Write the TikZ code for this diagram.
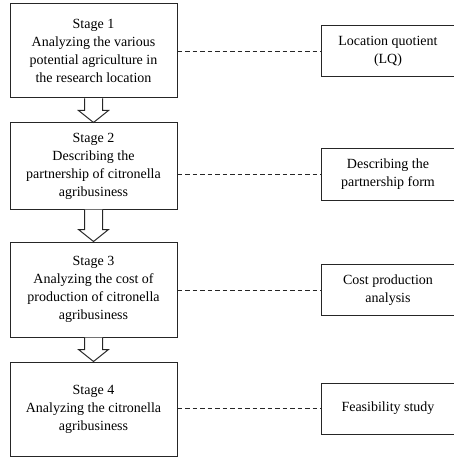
\documentclass[tikz,border=0pt]{standalone}
\usepackage{fontspec}
\setmainfont{Liberation Serif}
\usetikzlibrary{calc}

\tikzset{
    stagebox/.style={draw=black!85, line width=1pt, align=center,
        minimum width=167pt, font=\fontsize{14}{18}\selectfont},
    methodbox/.style={draw=black!85, line width=1pt, align=center,
        minimum width=134pt, minimum height=51pt, font=\fontsize{14}{18}\selectfont},
    link/.style={dashed, dash pattern=on 4.5pt off 3pt, line width=1pt, black!85},
    blockarrow/.style={draw=black!85, line width=1pt, fill=white}
}

\begin{document}
\begin{tikzpicture}[x=1pt, y=-1pt]
    \useasboundingbox (0,0) rectangle (454,457);
    % stages
    \node[stagebox, minimum height=94pt] (s1) at (93.5,51) {Stage 1\\Analyzing the various\\potential agriculture in\\the research location};
    \node[stagebox, minimum height=86pt] (s2) at (93.5,166) {Stage 2\\Describing the\\partnership of citronella\\agribusiness};
    \node[stagebox, minimum height=95pt] (s3) at (93.5,289.5) {Stage 3\\Analyzing the cost of\\production of citronella\\agribusiness};
    \node[stagebox, minimum height=94pt] (s4) at (93.5,409) {Stage 4\\Analyzing the citronella\\agribusiness};
    % methods
    \node[methodbox] (r1) at (388,51.5) {Location quotient\\(LQ)};
    \node[methodbox] (r2) at (388,174.5) {Describing the\\partnership form};
    \node[methodbox] (r3) at (388,290) {Cost production\\analysis};
    \node[methodbox] (r4) at (388,408.5) {Feasibility study};
    \foreach \k in {1,2,3,4} {
        \draw[link] (r\k.west -| s\k.east) -- (r\k.west);
    }
    % arrows between stages
    \foreach \a/\b in {s1/s2, s2/s3, s3/s4} {
        \draw[blockarrow] ($(\a.south)+(-9,0)$) -- ($(\b.north)+(-9,-12)$)
            -- ($(\b.north)+(-15,-12)$) -- (\b.north) -- ($(\b.north)+(15,-12)$)
            -- ($(\b.north)+(9,-12)$) -- ($(\a.south)+(9,0)$);
    }
\end{tikzpicture}
\end{document}
